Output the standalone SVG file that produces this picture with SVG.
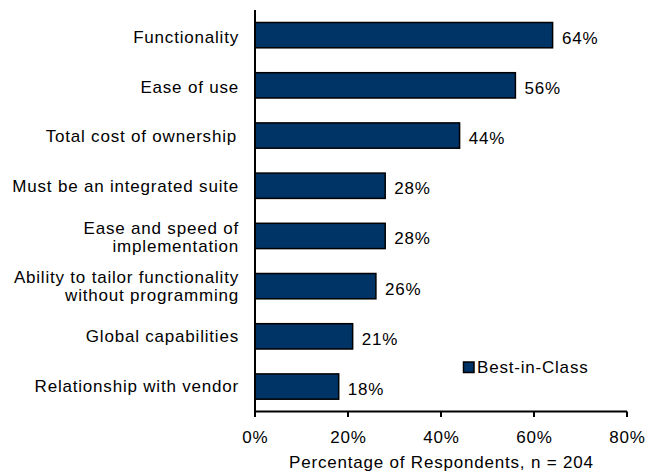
<svg xmlns="http://www.w3.org/2000/svg" width="647" height="474" viewBox="0 0 647 474">
<style>
text{font-family:"Liberation Sans",Arial,sans-serif;font-size:17px;letter-spacing:0.8px;fill:#000}
.cat{text-anchor:end}
.tick{text-anchor:middle}
.bar{fill:#003366;stroke:#000;stroke-width:1.5}
.ax{stroke:#000;stroke-width:2;fill:none}
</style>
<rect width="647" height="474" fill="#fff"/>
<g id="bars">
<rect class="bar" x="255" y="22.5" width="297.6" height="25.3"/>
<rect class="bar" x="255" y="72.7" width="260.4" height="25.3"/>
<rect class="bar" x="255" y="122.9" width="204.6" height="25.3"/>
<rect class="bar" x="255" y="173.1" width="130.2" height="25.3"/>
<rect class="bar" x="255" y="223.3" width="130.2" height="25.3"/>
<rect class="bar" x="255" y="273.5" width="120.9" height="25.3"/>
<rect class="bar" x="255" y="323.7" width="97.65" height="25.3"/>
<rect class="bar" x="255" y="373.9" width="83.7" height="25.3"/>
</g>
<g id="values">
<text x="562" y="43.5">64%</text>
<text x="524.5" y="93.7">56%</text>
<text x="468.7" y="143.9">44%</text>
<text x="394.3" y="194.1">28%</text>
<text x="394.3" y="244.3">28%</text>
<text x="385" y="294.5">26%</text>
<text x="361.7" y="344.7">21%</text>
<text x="347.8" y="394.9">18%</text>
</g>
<g id="categories">
<text class="cat" x="239" y="43.3">Functionality</text>
<text class="cat" x="239" y="92.7">Ease of use</text>
<text class="cat" x="237" y="141.7">Total cost of ownership</text>
<text class="cat" x="239" y="191.7">Must be an integrated suite</text>
<text class="cat" x="239" y="233.5">Ease and speed of</text>
<text class="cat" x="239" y="251.5">implementation</text>
<text class="cat" x="239" y="283.3">Ability to tailor functionality</text>
<text class="cat" x="239" y="301">without programming</text>
<text class="cat" x="239" y="341.7">Global capabilities</text>
<text class="cat" x="239" y="391.7">Relationship with vendor</text>
</g>
<g id="axes">
<path class="ax" d="M255 10V417M255 411.5H627M348 411.5V417M441 411.5V417M534 411.5V417M627 411.5V417"/>
<text class="tick" x="255.4" y="442.5">0%</text>
<text class="tick" x="348.4" y="442.5">20%</text>
<text class="tick" x="441.4" y="442.5">40%</text>
<text class="tick" x="534.4" y="442.5">60%</text>
<text class="tick" x="627.4" y="442.5">80%</text>
<text class="tick" x="441.4" y="468.3">Percentage of Respondents, n = 204</text>
</g>
<g id="legend">
<rect class="bar" x="463.5" y="362" width="10.5" height="10.5" stroke-width="1.2"/>
<text x="477" y="373">Best-in-Class</text>
</g>
</svg>
